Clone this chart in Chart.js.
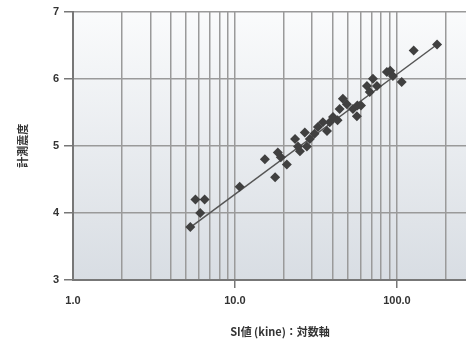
<!DOCTYPE html>
<html>
<head>
<meta charset="utf-8">
<script src="https://cdn.jsdelivr.net/npm/chart.js@4"></script>
<style>
html,body{margin:0;padding:0;background:#fff;overflow:hidden;}
#wrap{width:466px;height:342px;overflow:hidden;position:relative;}
#c{position:absolute;left:0;top:0;}
</style>
</head>
<body>
<div id="wrap"><canvas id="c" width="492" height="342"></canvas></div>
<script>
// SI value (kine) vs measured seismic intensity
const siValues = [5.3, 5.7, 6.5, 6.1, 10.7, 15.3, 17.7, 18.4, 19.2, 20.9, 23.5, 24.5, 25.2, 27.0, 27.8, 29.0, 31.0, 32.5, 34.9, 37.0, 38.5, 40.3, 43.0, 44.3, 46.4, 49.1, 53.5, 56.6, 57.0, 60.0, 65.3, 68.0, 71.1, 75.3, 86.7, 91.0, 94.4, 107, 127, 177];
const intensities = [3.79, 4.20, 4.20, 4.00, 4.39, 4.80, 4.53, 4.90, 4.83, 4.72, 5.10, 4.99, 4.92, 5.20, 4.99, 5.10, 5.18, 5.28, 5.35, 5.22, 5.35, 5.43, 5.38, 5.55, 5.70, 5.62, 5.55, 5.44, 5.60, 5.60, 5.89, 5.80, 6.00, 5.89, 6.10, 6.12, 6.04, 5.95, 6.42, 6.51];
const fitX = [5.2, 177];
const fitY = [3.77, 6.51];
const xTickValues = [1,2,3,4,5,6,7,8,9,10,20,30,40,50,60,70,80,90,100,200,300];
const xLabeledTicks = [1, 10, 100];
const yTickValues = [3, 4, 5, 6, 7];

const bgPlugin = {
  id: 'bg',
  beforeDraw(chart) {
    const {ctx, chartArea: a} = chart;
    const g = ctx.createLinearGradient(0, a.top, 0, a.bottom);
    g.addColorStop(0, '#fafbfc');
    g.addColorStop(1, '#d8dde3');
    ctx.save();
    ctx.fillStyle = g;
    ctx.fillRect(a.left, a.top, a.right - a.left, a.bottom - a.top);
    ctx.restore();
  }
};

const pts = siValues.map((v, i) => ({x: v, y: intensities[i]}));
const line = fitX.map((v, i) => ({x: v, y: fitY[i]}));

new Chart(document.getElementById('c'), {
  type: 'scatter',
  data: {
    datasets: [
      {
        data: line,
        showLine: true,
        borderColor: '#555',
        borderWidth: 1.5,
        pointRadius: 0,
        order: 2
      },
      {
        data: pts,
        pointStyle: 'rectRot',
        pointRadius: 5,
        backgroundColor: '#404040',
        borderColor: '#404040',
        borderWidth: 0,
        order: 1
      }
    ]
  },
  plugins: [bgPlugin],
  options: {
    responsive: false,
    animation: false,
    layout: {padding: {top: 7, right: 0, left: 12, bottom: 0}},
    plugins: {legend: {display: false}, tooltip: {enabled: false}},
    scales: {
      x: {
        type: 'logarithmic',
        min: 1,
        max: 360,
        afterBuildTicks(scale) {
          scale.ticks = xTickValues.map(v => ({value: v, major: xLabeledTicks.includes(v)}));
        },
        afterFit(scale) { scale.height = 62; },
        ticks: {
          autoSkip: false,
          maxRotation: 0,
          padding: 6,
          color: '#333',
          font: {family: 'Liberation Sans', size: 11, weight: 'bold'},
          callback(v) { return xLabeledTicks.includes(v) ? v.toFixed(1) : ''; }
        },
        grid: {
          color: '#9a9a9a',
          lineWidth: 1.5,
          tickLength: 8,
          tickColor: ctx => (ctx.tick && xLabeledTicks.includes(ctx.tick.value) && ctx.tick.value !== 1) ? '#777' : 'rgba(0,0,0,0)',
          tickWidth: 1.5
        },
        border: {color: '#777', width: 2},
        title: {
          display: true,
          text: 'SI値 (kine)：対数軸',
          color: '#333',
          font: {family: 'Noto Sans CJK JP', size: 11, weight: 'bold'},
          padding: {top: 0}
        }
      },
      y: {
        min: 3,
        max: 7,
        afterBuildTicks(scale) {
          scale.ticks = yTickValues.map(v => ({value: v}));
        },
        afterFit(scale) { scale.width = 61; },
        ticks: {
          padding: 5,
          color: '#333',
          font: {family: 'Liberation Sans', size: 11, weight: 'bold'}
        },
        grid: {
          color: '#9a9a9a',
          lineWidth: 1.5,
          tickLength: 9,
          tickColor: '#777',
          tickWidth: 1.5
        },
        border: {color: '#777', width: 2},
        title: {
          display: true,
          text: '計測震度',
          color: '#333',
          font: {family: 'Noto Sans CJK JP', size: 11, weight: 'bold'},
          padding: {bottom: 0}
        }
      }
    }
  }
});
</script>
</body>
</html>
